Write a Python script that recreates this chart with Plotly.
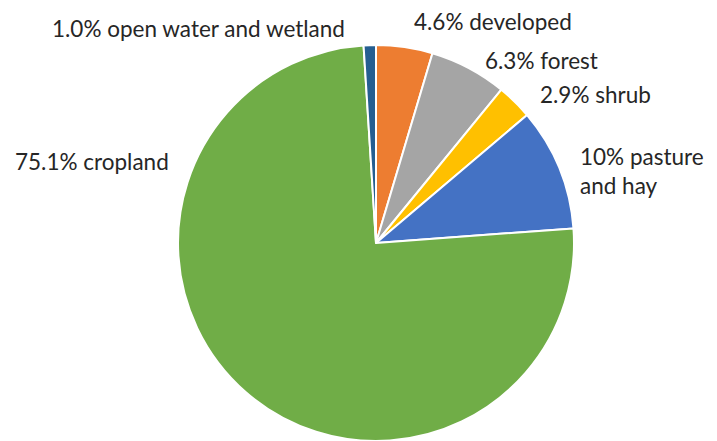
import plotly.graph_objects as go

# Data (clockwise from 12 o'clock)
categories = ["developed", "forest", "shrub", "pasture and hay", "cropland", "open water and wetland"]
values = [4.6, 6.3, 2.9, 10, 75.1, 1.0]
value_text = ["4.6%", "6.3%", "2.9%", "10%", "75.1%", "1.0%"]
colors = ["#ED7D31", "#A5A5A5", "#FFC000", "#4472C4", "#70AD47", "#255E91"]

W, H = 717, 441

fig = go.Figure(go.Pie(
    labels=categories,
    values=values,
    sort=False,
    direction="clockwise",
    rotation=0,
    marker=dict(colors=colors, line=dict(color="white", width=2)),
    textinfo="none",
    hoverinfo="label+percent",
    showlegend=False,
    domain=dict(x=[178 / W, 574 / W], y=[0, 396 / H]),
))

# label placement (pixel positions: left edge, vertical centre)
label_pos = {
    "developed": (412, 21),
    "forest": (483, 60),
    "shrub": (538, 95),
    "pasture and hay": (578, 171),
    "cropland": (13, 161),
    "open water and wetland": (50, 28),
}

for cat, vt in zip(categories, value_text):
    txt = f"{vt} {cat}"
    if cat == "pasture and hay":
        txt = f"{vt} pasture<br>and hay"
    px, py = label_pos[cat]
    fig.add_annotation(
        x=px / W, y=1 - py / H, xref="paper", yref="paper",
        xanchor="left", yanchor="middle", align="left",
        text=txt, showarrow=False,
        font=dict(family="Lato", size=22.5, color="#262626"),
    )

fig.update_layout(
    width=W, height=H,
    margin=dict(l=0, r=0, t=0, b=0),
    paper_bgcolor="white",
    plot_bgcolor="white",
)

fig.write_html(
    "out.html",
    config={"displayModeBar": False},
    post_script="document.body.style.margin='0';document.documentElement.style.overflow='hidden';",
)
